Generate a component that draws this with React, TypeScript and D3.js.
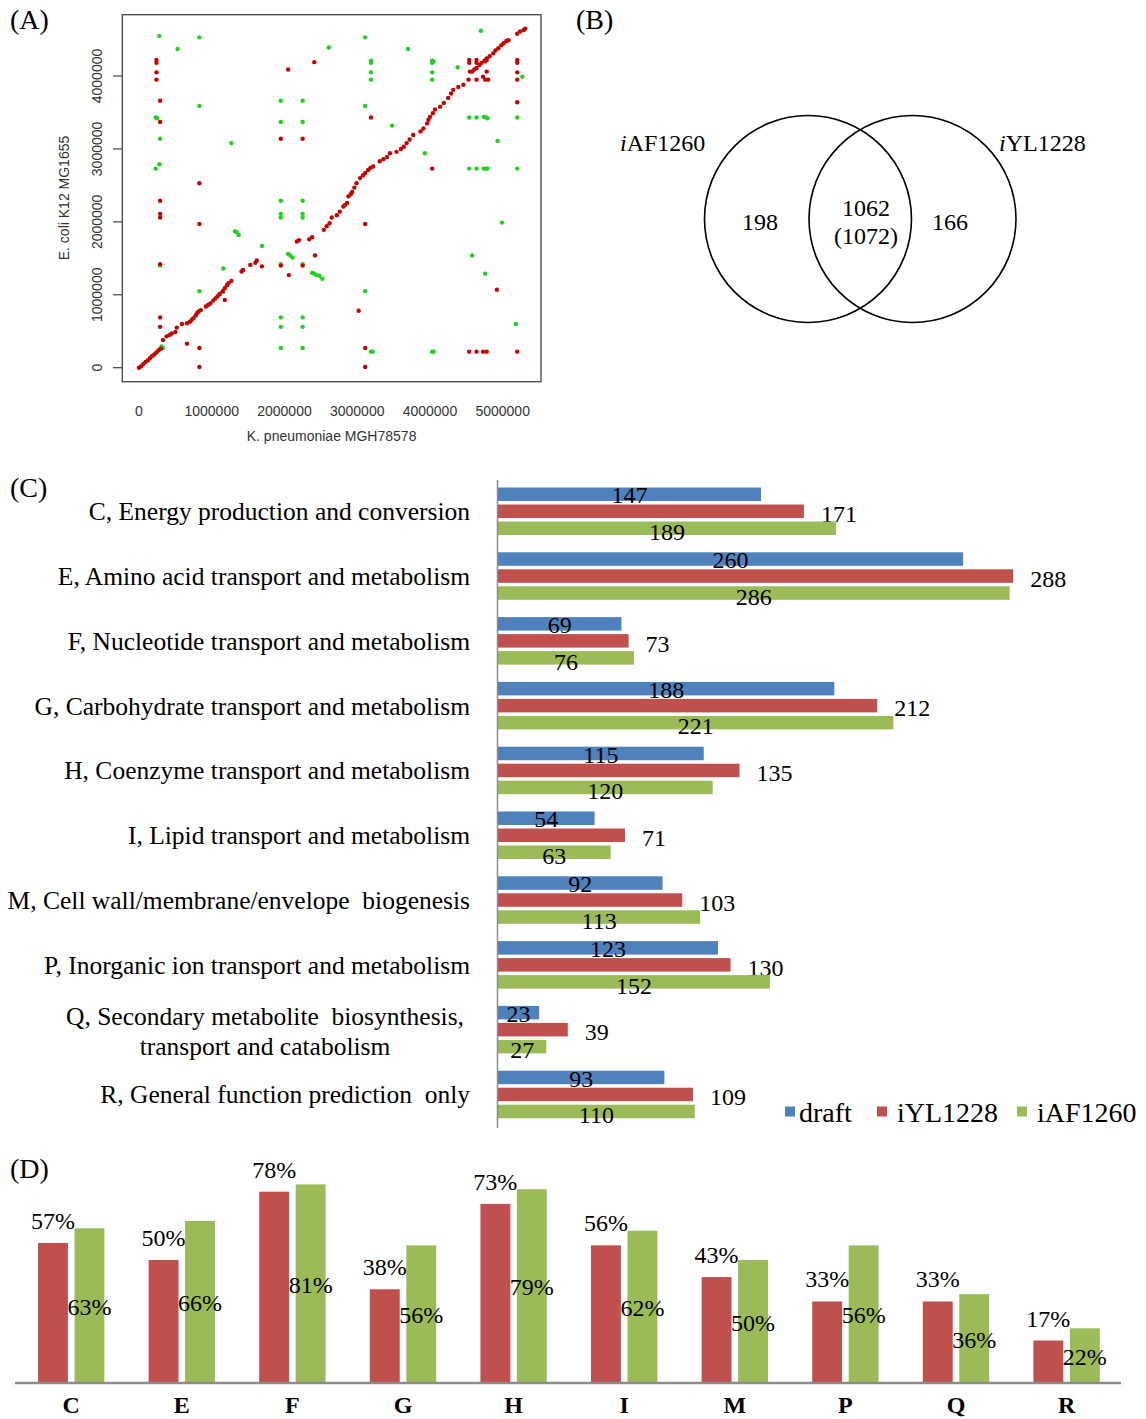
import React, { useEffect, useRef } from 'react';
import * as d3 from 'd3';

// Tamaño de la figura
const W = 1146;
const H = 1419;
const serif = '"Liberation Serif", "Times New Roman", serif';
const sans = '"Liberation Sans", Arial, sans-serif';

// (A) dot plot: [K. pneumoniae Mb, E. coli Mb]
const diagRed = [
  [0, 0], [0.03, 0.02], [0.06, 0.05], [0.09, 0.08], [0.12, 0.1], [0.15, 0.13], [0.18, 0.16], [0.21, 0.18],
  [0.24, 0.21], [0.27, 0.24], [0.3, 0.26], [0.33, 0.38], [0.38, 0.43], [0.42, 0.45], [0.45, 0.47], [0.5, 0.49],
  [0.52, 0.55], [0.59, 0.6], [0.66, 0.61], [0.7, 0.63], [0.73, 0.66], [0.75, 0.68], [0.78, 0.72], [0.8, 0.75],
  [0.82, 0.77], [0.85, 0.79], [0.92, 0.84], [0.95, 0.86], [0.98, 0.88], [1.02, 0.92], [1.05, 0.95], [1.08, 0.98],
  [1.11, 1.01], [1.15, 1.05], [1.18, 1.09], [1.21, 1.13], [1.23, 1.16], [1.27, 1.19], [1.41, 1.32], [1.43, 1.34],
  [1.53, 1.41], [1.6, 1.44], [1.62, 1.47], [2.17, 1.73], [2.2, 1.75], [2.34, 1.76], [2.38, 1.79], [2.54, 1.89],
  [2.58, 1.94], [2.62, 1.98], [2.65, 2.06], [2.72, 2.09], [2.76, 2.14], [2.81, 2.21], [2.83, 2.23], [2.86, 2.26],
  [2.88, 2.35], [2.91, 2.38], [2.93, 2.41], [2.96, 2.47], [2.99, 2.53], [3.04, 2.6], [3.08, 2.64], [3.11, 2.67],
  [3.15, 2.71], [3.18, 2.74], [3.22, 2.76], [3.31, 2.83], [3.36, 2.86], [3.41, 2.89], [3.45, 2.94], [3.54, 2.96],
  [3.6, 3.0], [3.64, 3.03], [3.68, 3.08], [3.72, 3.13], [3.77, 3.19], [3.87, 3.24], [3.91, 3.28], [3.96, 3.35],
  [3.98, 3.4], [4.0, 3.44], [4.04, 3.49], [4.07, 3.54], [4.14, 3.58], [4.19, 3.63], [4.25, 3.7], [4.29, 3.76],
  [4.32, 3.81], [4.39, 3.85], [4.46, 3.88], [4.53, 3.95], [4.58, 4.06], [4.61, 4.09], [4.64, 4.11], [4.68, 4.15],
  [4.71, 4.18], [4.75, 4.21], [4.78, 4.24], [4.82, 4.27], [4.87, 4.31], [4.9, 4.35], [4.94, 4.38], [4.98, 4.42],
  [5.01, 4.45], [5.05, 4.48], [5.08, 4.49], [5.2, 4.58], [5.24, 4.61], [5.29, 4.63], [5.31, 4.65], [4.64, 3.95],
  [4.73, 3.99], [4.78, 4.06], [4.55, 4.06], [4.76, 3.95], [4.8, 3.95],
];
const offRed = [
  [0.24, 4.22], [0.24, 4.18], [0.24, 4.05], [0.24, 3.95], [0.29, 3.66], [0.29, 3.37], [0.29, 2.29], [0.29, 2.11],
  [0.29, 2.06], [0.29, 1.42], [0.29, 0.69], [0.29, 0.56], [0.83, 2.53], [0.83, 1.97], [0.83, 0.27], [0.83, 0.01],
  [0.66, 0.33], [2.05, 4.09], [2.41, 4.19], [1.95, 3.14], [2.25, 3.14], [3.19, 3.43], [4.03, 2.73], [5.2, 4.22],
  [5.2, 4.18], [5.2, 4.05], [5.2, 3.95], [5.2, 3.64], [1.69, 1.39], [1.95, 1.4], [2.06, 1.27], [2.25, 1.4],
  [2.42, 1.54], [1.18, 0.93], [3.11, 1.97], [3.02, 0.78], [3.11, 0.27], [3.11, 0.01], [4.92, 1.07], [4.54, 0.22],
  [4.64, 0.22], [4.73, 0.22], [4.78, 0.22], [5.2, 0.22], [4.54, 4.22], [4.54, 4.18], [4.64, 4.22], [4.64, 4.18],
  [4.76, 4.2], [4.78, 4.22],
];
const greenPts = [
  [0.28, 4.55], [0.83, 4.53], [0.53, 4.37], [2.61, 4.39], [3.11, 4.53], [3.7, 4.37], [4.7, 4.62], [3.19, 4.21],
  [3.19, 4.18], [3.19, 4.05], [3.19, 3.95], [4.03, 4.21], [4.03, 4.18], [4.05, 4.2], [4.03, 4.05], [4.03, 3.95],
  [4.38, 4.12], [5.27, 3.99], [1.95, 3.66], [2.25, 3.66], [0.83, 3.59], [3.11, 3.59], [0.23, 3.43], [0.25, 3.42],
  [1.95, 3.37], [2.25, 3.37], [3.48, 3.32], [4.54, 3.43], [4.64, 3.43], [4.74, 3.44], [4.77, 3.43], [4.79, 3.42],
  [5.2, 3.43], [0.29, 3.14], [1.27, 3.08], [3.93, 2.94], [4.93, 3.11], [0.28, 2.79], [0.23, 2.73], [4.54, 2.73],
  [4.64, 2.73], [4.74, 2.73], [4.77, 2.73], [4.79, 2.73], [5.2, 2.73], [1.95, 2.29], [2.25, 2.29], [1.95, 2.11],
  [1.95, 2.06], [2.25, 2.11], [2.25, 2.06], [1.32, 1.87], [1.34, 1.86], [1.37, 1.82], [1.69, 1.67], [2.05, 1.56],
  [2.08, 1.54], [2.11, 1.51], [4.99, 1.99], [4.58, 1.54], [4.76, 1.29], [1.16, 1.36], [0.29, 1.4], [1.95, 1.42],
  [2.25, 1.42], [2.38, 1.3], [2.41, 1.29], [2.44, 1.27], [2.48, 1.26], [2.52, 1.22], [0.83, 1.05], [3.11, 1.05],
  [1.16, 1.04], [1.95, 0.69], [1.95, 0.56], [2.25, 0.69], [2.25, 0.56], [5.18, 0.6], [1.95, 0.27], [2.25, 0.27],
  [0.31, 0.29], [0.33, 0.27], [3.19, 0.22], [3.21, 0.22], [4.03, 0.22], [4.05, 0.22],
];
const dotXTicks = [0, 1, 2, 3, 4, 5];
const dotYTicks = [0, 1, 2, 3, 4];

// (B) Venn
const onlyIAF = '198';
const sharedTop = '1062';
const sharedBottom = '(1072)';
const onlyIYL = '166';

// (C) COG counts
const cogLabels = [
  ['C, Energy production and conversion'],
  ['E, Amino acid transport and metabolism'],
  ['F, Nucleotide transport and metabolism'],
  ['G, Carbohydrate transport and metabolism'],
  ['H, Coenzyme transport and metabolism'],
  ['I, Lipid transport and metabolism'],
  ['M, Cell wall/membrane/envelope  biogenesis'],
  ['P, Inorganic ion transport and metabolism'],
  ['Q, Secondary metabolite  biosynthesis,', 'transport and catabolism'],
  ['R, General function prediction  only'],
];
const seriesNames = ['draft', 'iYL1228', 'iAF1260'];
const draftCounts = [147, 260, 69, 188, 115, 54, 92, 123, 23, 93];
const iylCounts = [171, 288, 73, 212, 135, 71, 103, 130, 39, 109];
const iafCounts = [189, 286, 76, 221, 120, 63, 113, 152, 27, 110];
const colors = ['#4F81BD', '#C0504D', '#9BBB59'];

// (D) porcentajes
const cogLetters = ['C', 'E', 'F', 'G', 'H', 'I', 'M', 'P', 'Q', 'R'];
const pctIYL = [57, 50, 78, 38, 73, 56, 43, 33, 33, 17];
const pctIAF = [63, 66, 81, 56, 79, 62, 50, 56, 36, 22];

const App = () => {
  const svgRef = useRef<SVGSVGElement>(null);

  useEffect(() => {
    const svg = d3.select(svgRef.current);
    svg.selectAll('*').remove();

    // ---------- (A) ----------
    const gA = svg.append('g');
    const xA = d3.scaleLinear().domain([0, 5]).range([139, 502.7]);
    const yA = d3.scaleLinear().domain([0, 4]).range([367.7, 76]);
    gA.append('rect')
      .attr('x', 122.3).attr('y', 14.7).attr('width', 418.7).attr('height', 367)
      .attr('fill', 'none').attr('stroke', '#444').attr('stroke-width', 1.3);
    gA.selectAll('line.yt').data(dotYTicks).join('line')
      .attr('x1', 113).attr('x2', 122.3)
      .attr('y1', d => yA(d)).attr('y2', d => yA(d))
      .attr('stroke', '#444').attr('stroke-width', 1.2);
    gA.selectAll('text.yl').data(dotYTicks).join('text')
      .attr('transform', d => `translate(102,${yA(d)}) rotate(-90)`)
      .attr('text-anchor', 'middle')
      .style('font-family', sans).style('font-size', '14px').attr('fill', '#333')
      .text(d => d3.format('d')(d * 1e6));
    gA.selectAll('text.xl').data(dotXTicks).join('text')
      .attr('x', d => xA(d)).attr('y', 416)
      .attr('text-anchor', 'middle')
      .style('font-family', sans).style('font-size', '14px').attr('fill', '#333')
      .text(d => d3.format('d')(d * 1e6));
    gA.append('text')
      .attr('x', 331.6).attr('y', 441).attr('text-anchor', 'middle')
      .style('font-family', sans).style('font-size', '14px').attr('fill', '#333')
      .text('K. pneumoniae MGH78578');
    gA.append('text')
      .attr('transform', 'translate(69,198) rotate(-90)').attr('text-anchor', 'middle')
      .style('font-family', sans).style('font-size', '14px').attr('fill', '#333')
      .text('E. coli K12 MG1655');
    gA.append('g').selectAll('circle').data(greenPts).join('circle')
      .attr('cx', d => xA(d[0])).attr('cy', d => yA(d[1])).attr('r', 2.2)
      .attr('fill', '#1ed21e');
    gA.append('g').selectAll('circle').data([...diagRed, ...offRed]).join('circle')
      .attr('cx', d => xA(d[0])).attr('cy', d => yA(d[1])).attr('r', 2.2)
      .attr('fill', '#c80000');

    // ---------- (B) ----------
    const gB = svg.append('g');
    const circles = [{ cx: 808, cy: 219 }, { cx: 912.5, cy: 219 }];
    gB.selectAll('circle').data(circles).join('circle')
      .attr('cx', d => d.cx).attr('cy', d => d.cy).attr('r', 103.5)
      .attr('fill', 'none').attr('stroke', '#000').attr('stroke-width', 1.6);
    const vennText = (x: number, y: number, s: string) =>
      gB.append('text').attr('x', x).attr('y', y).attr('text-anchor', 'middle')
        .style('font-family', serif).style('font-size', '24px').attr('fill', '#000').text(s);
    vennText(760, 229.5, onlyIAF);
    vennText(866, 216, sharedTop);
    vennText(866, 244, sharedBottom);
    vennText(950, 229.5, onlyIYL);
    const setLabel = (x: number, name: string) => {
      const t = gB.append('text').attr('x', x).attr('y', 151).attr('text-anchor', 'start')
        .style('font-family', serif).style('font-size', '24px').attr('fill', '#000');
      t.append('tspan').style('font-style', 'italic').text(name[0]);
      t.append('tspan').text(name.slice(1));
    };
    setLabel(620, 'iAF1260');
    setLabel(999, 'iYL1228');

    // ---------- (C) ----------
    const gC = svg.append('g');
    const yGroup = d3.scaleBand<number>().domain(d3.range(cogLabels.length))
      .range([487.5, 1118.2]).paddingInner(0.267).paddingOuter(0);
    const ySeries = d3.scaleBand<number>().domain([0, 1, 2])
      .range([0, yGroup.bandwidth()]).paddingInner(0.206).paddingOuter(0);
    const xC = d3.scaleLinear().domain([0, 300]).range([498, 498 + 300 * 1.789]);
    const allCounts = [draftCounts, iylCounts, iafCounts];
    const bw = ySeries.bandwidth();
    cogLabels.forEach((lines, i) => {
      const g0 = yGroup(i) as number;
      allCounts.forEach((arr, s) => {
        const y0 = g0 + (ySeries(s) as number);
        const v = arr[i];
        gC.append('rect')
          .attr('x', xC(0)).attr('y', y0)
          .attr('width', xC(v) - xC(0)).attr('height', bw)
          .attr('fill', colors[s]);
        const lbl = gC.append('text')
          .style('font-family', serif).style('font-size', '24px').attr('fill', '#000')
          .text(v);
        if (s === 1) {
          lbl.attr('x', xC(v) + 17).attr('y', y0 + bw + 4).attr('text-anchor', 'start');
        } else {
          lbl.attr('x', (xC(0) + xC(v)) / 2).attr('y', y0 + bw + (s === 0 ? 2.5 : 5))
            .attr('text-anchor', 'middle');
        }
      });
      const redMid = g0 + (ySeries(1) as number) + bw / 2;
      if (lines.length === 1) {
        gC.append('text').attr('x', 470).attr('y', redMid + 9).attr('text-anchor', 'end')
          .style('font-family', serif).style('font-size', '25.5px').style('white-space', 'pre')
          .attr('fill', '#000').text(lines[0]);
      } else {
        lines.forEach((ln, k) => {
          gC.append('text').attr('x', 265).attr('y', redMid - 5 + k * 30).attr('text-anchor', 'middle')
            .style('font-family', serif).style('font-size', '25.5px').style('white-space', 'pre')
            .attr('fill', '#000').text(ln);
        });
      }
    });
    gC.append('line')
      .attr('x1', 497.5).attr('x2', 497.5).attr('y1', 480).attr('y2', 1128)
      .attr('stroke', '#8c8c8c').attr('stroke-width', 1.5);
    // leyenda
    const legendX = [785, 877, 1017];
    seriesNames.forEach((n, s) => {
      gC.append('rect').attr('x', legendX[s]).attr('y', 1106.5).attr('width', 10).attr('height', 10)
        .attr('fill', colors[s]);
      gC.append('text').attr('x', legendX[s] + (s === 0 ? 14 : 20)).attr('y', 1121.5)
        .style('font-family', serif).style('font-size', '28px').attr('fill', '#000').text(n);
    });

    // ---------- (D) ----------
    const gD = svg.append('g');
    const xD = d3.scaleBand<string>().domain(cogLetters).range([15.9, 1121.9])
      .paddingInner(0.4).paddingOuter(0.2);
    const xInner = d3.scaleBand<number>().domain([0, 1]).range([0, xD.bandwidth()])
      .paddingInner(0.18).paddingOuter(0);
    const yD = d3.scaleLinear().domain([0, 100]).range([1382, 1138]);
    const iw = xInner.bandwidth();
    cogLetters.forEach((c, i) => {
      const bx = xD(c) as number;
      const rx = bx + (xInner(0) as number);
      const gx = bx + (xInner(1) as number);
      gD.append('rect').attr('x', rx).attr('y', yD(pctIYL[i]))
        .attr('width', iw).attr('height', yD(0) - yD(pctIYL[i])).attr('fill', colors[1]);
      gD.append('rect').attr('x', gx).attr('y', yD(pctIAF[i]))
        .attr('width', iw).attr('height', yD(0) - yD(pctIAF[i])).attr('fill', colors[2]);
      gD.append('text').attr('x', rx + iw / 2).attr('y', yD(pctIYL[i]) - 14)
        .attr('text-anchor', 'middle')
        .style('font-family', serif).style('font-size', '24px').attr('fill', '#000')
        .text(`${pctIYL[i]}%`);
      gD.append('text').attr('x', gx + iw / 2).attr('y', (yD(pctIAF[i]) + yD(0)) / 2 + 9.5)
        .attr('text-anchor', 'middle')
        .style('font-family', serif).style('font-size', '24px').attr('fill', '#000')
        .text(`${pctIAF[i]}%`);
      gD.append('text').attr('x', bx + xD.bandwidth() / 2).attr('y', 1413)
        .attr('text-anchor', 'middle')
        .style('font-family', serif).style('font-size', '24px').style('font-weight', 'bold')
        .attr('fill', '#000').text(c);
    });
    gD.append('line')
      .attr('x1', 15).attr('x2', 1121).attr('y1', 1383).attr('y2', 1383)
      .attr('stroke', '#8c8c8c').attr('stroke-width', 2.5);

    // etiquetas de panel
    const panels = [
      { t: '(A)', x: 10, y: 29 },
      { t: '(B)', x: 576, y: 29 },
      { t: '(C)', x: 10, y: 497 },
      { t: '(D)', x: 10, y: 1178 },
    ];
    svg.append('g').selectAll('text').data(panels).join('text')
      .attr('x', d => d.x).attr('y', d => d.y)
      .style('font-family', serif).style('font-size', '28px').attr('fill', '#000')
      .text(d => d.t);
  }, []);

  return (
    <svg
      ref={svgRef}
      width={W}
      height={H}
      style={{ position: 'absolute', left: 0, top: 0, background: '#fff' }}
    />
  );
};

export default App;
